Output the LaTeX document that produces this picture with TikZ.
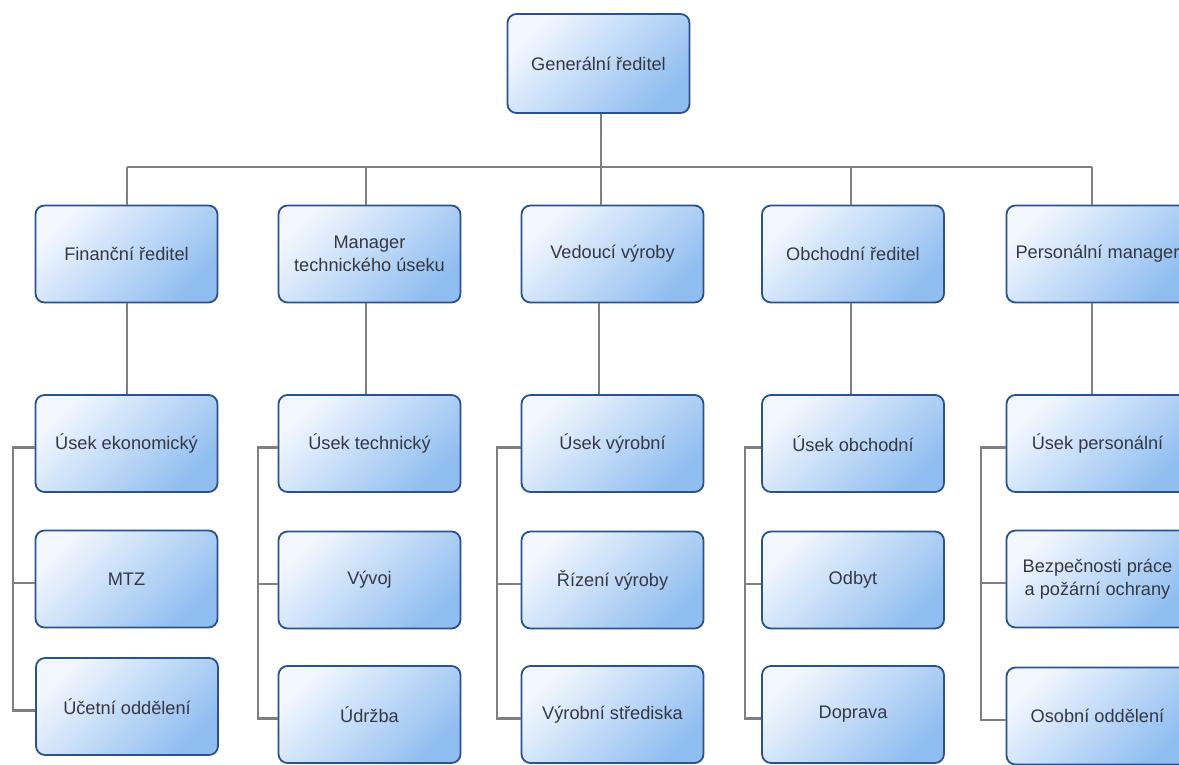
\documentclass[tikz,border=0pt]{standalone}
\usepackage{fontspec}
\setmainfont{Liberation Sans}
\definecolor{boxlight}{RGB}{242,247,254}
\definecolor{boxdark}{RGB}{144,190,240}
\definecolor{boxline}{RGB}{42,82,142}
\definecolor{conncol}{RGB}{128,128,128}
\definecolor{txtcol}{RGB}{55,55,68}
\tikzset{
  orgbox/.style={draw=boxline, line width=1.8pt, rounded corners=9pt,
    left color=boxlight, right color=boxdark, shading angle=45,
    minimum width=182pt, minimum height=97pt, inner sep=2pt,
    align=center, text=txtcol, font=\fontsize{18.2}{23.5}\selectfont},
  conn/.style={draw=conncol, line width=2.4pt}
}
\begin{document}
\begin{tikzpicture}[x=1pt,y=-1pt]
\useasboundingbox (0,0) rectangle (1179,765);
\clip (0,0) rectangle (1179,765);
\fill[white] (0,0) rectangle (1179,765);
% level 1
\node[orgbox, minimum height=99pt] (gen) at (598.5,63.5) {Generální ředitel};
% level 2
\node[orgbox] (fin) at (126.5,254) {Finanční ředitel};
\node[orgbox] (man) at (369.5,254) {Manager\\technického úseku};
\node[orgbox] (ved) at (612.5,254) {Vedoucí výroby};
\node[orgbox] (obc) at (853,254) {Obchodní ředitel};
\node[orgbox] (per) at (1097.5,254) {Personální manager};
% level 3
\node[orgbox] (u1) at (126.5,443.5) {Úsek ekonomický};
\node[orgbox] (u2) at (369.5,443.5) {Úsek technický};
\node[orgbox] (u3) at (612.5,443.5) {Úsek výrobní};
\node[orgbox] (u4) at (853,443.5) {Úsek obchodní};
\node[orgbox] (u5) at (1097.5,443.5) {Úsek personální};
% level 4
\node[orgbox] (m1) at (126.5,579) {MTZ};
\node[orgbox] (m2) at (369.5,580) {Vývoj};
\node[orgbox] (m3) at (612.5,580) {Řízení výroby};
\node[orgbox] (m4) at (853,580) {Odbyt};
\node[orgbox] (m5) at (1097.5,579) {Bezpečnosti práce\\a požární ochrany};
% level 5
\node[orgbox] (b1) at (127,706.5) {Účetní oddělení};
\node[orgbox] (b2) at (369.5,714.5) {Údržba};
\node[orgbox] (b3) at (612.5,714.5) {Výrobní střediska};
\node[orgbox] (b4) at (853,714.5) {Doprava};
\node[orgbox] (b5) at (1097.5,716) {Osobní oddělení};
% bus
\coordinate (bus) at (0,167);
\draw[conn] ([xshift=0.5pt]fin.north |- bus) -- ([xshift=-5.5pt]per.north |- bus);
\draw[conn] ([xshift=2.5pt]gen.south) -- ([xshift=-11.5pt]ved.north);
\draw[conn] ([xshift=0.5pt]fin.north) -- ([xshift=0.5pt]fin.north |- bus);
\draw[conn] ([xshift=-3.5pt]man.north) -- ([xshift=-3.5pt]man.north |- bus);
\draw[conn] ([xshift=-2pt]obc.north) -- ([xshift=-2pt]obc.north |- bus);
\draw[conn] ([xshift=-5.5pt]per.north) -- ([xshift=-5.5pt]per.north |- bus);
% level 2 -> 3
\draw[conn] ([xshift=0.5pt]fin.south) -- ([xshift=0.5pt]u1.north);
\draw[conn] ([xshift=-3.5pt]man.south) -- ([xshift=-3.5pt]u2.north);
\draw[conn] ([xshift=-13.5pt]ved.south) -- ([xshift=-13.5pt]u3.north);
\draw[conn] ([xshift=-2pt]obc.south) -- ([xshift=-2pt]u4.north);
\draw[conn] ([xshift=-5.5pt]per.south) -- ([xshift=-5.5pt]u5.north);
% brackets
\coordinate (k1) at (13,0);
\coordinate (k2) at (258,0);
\coordinate (k3) at (497,0);
\coordinate (k4) at (745,0);
\coordinate (k5) at (981,0);
\foreach \c in {1,...,5}{
  \draw[conn] ([yshift=-4pt]u\c.west) -- ([yshift=-4pt]k\c |- u\c.west) -- ([yshift=-4pt]k\c |- b\c.west) -- ([yshift=-4pt]b\c.west);
  \draw[conn] ([yshift=-4pt]k\c |- m\c.west) -- ([yshift=-4pt]m\c.west);
}
\end{tikzpicture}
\end{document}
